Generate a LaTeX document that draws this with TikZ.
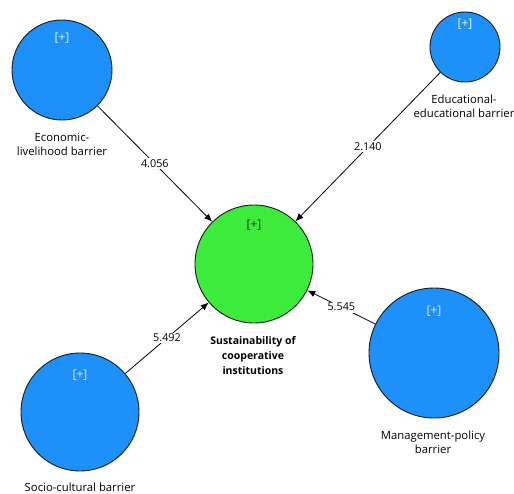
\documentclass[tikz,border=0pt]{standalone}
\usepackage{fontspec}
\setmainfont{Open Sans}
\usetikzlibrary{arrows.meta}
\definecolor{constblue}{RGB}{30,144,250}
\definecolor{constgreen}{RGB}{60,235,60}
\begin{document}
\begin{tikzpicture}[x=1pt,y=-1pt,
    construct/.style={circle,draw=black!90,line width=0.9pt,inner sep=0pt},
    plus/.style={font=\fontsize{12}{14}\selectfont},
    caption/.style={align=center,font=\fontsize{11.3}{14}\selectfont,text=black},
    weight/.style={fill=white,inner sep=1.5pt,font=\fontsize{10.8}{12}\selectfont},
    effect/.style={-{Latex[length=8pt,width=6.5pt]},line width=0.8pt,black}]
    \useasboundingbox[fill=white] (0,0) rectangle (514,493);

    % Draw constructs
    \node[construct,fill=constgreen,minimum size=118pt] (sust) at (254,264) {};
    \node[construct,fill=constblue,minimum size=100pt] (econ) at (62,70) {};
    \node[construct,fill=constblue,minimum size=70pt] (educ) at (465,47) {};
    \node[construct,fill=constblue,minimum size=118pt] (socio) at (80,412) {};
    \node[construct,fill=constblue,minimum size=130pt] (manage) at (434,353) {};

    % Draw [+] markers
    \node[plus,text=constblue!12!white] (econ plus) at (62,38) {[+]};
    \node[plus,text=constblue!12!white] (educ plus) at (465,24) {[+]};
    \node[plus,text=constblue!12!white] (socio plus) at (80,375) {[+]};
    \node[plus,text=constblue!12!white] (manage plus) at (434,311) {[+]};
    \node[plus,text=black!85] (sust plus) at (254,225) {[+]};

    % Draw captions
    \node[caption] (econ text) at (62,144) {Economic-\\livelihood barrier};
    \node[caption] (educ text) at (464,106) {Educational-\\educational barrier};
    \node[caption,font=\fontsize{10.5}{15}\selectfont\bfseries] (sust text) at (253,356) {Sustainability of\\cooperative\\institutions};
    \node[caption] (socio text) at (80,487) {Socio-cultural barrier};
    \node[caption] (manage text) at (433,442) {Management-policy\\barrier};

    % Draw paths
    \draw[effect] (econ) -- node[weight] (econ weight) {4.056} (sust);
    \draw[effect] (educ) -- node[weight] (educ weight) {2.140} (sust);
    \draw[effect] (socio) -- node[weight] (socio weight) {5.492} (sust);
    \draw[effect] (manage) -- node[weight] (manage weight) {5.545} (sust);
\end{tikzpicture}
\end{document}
